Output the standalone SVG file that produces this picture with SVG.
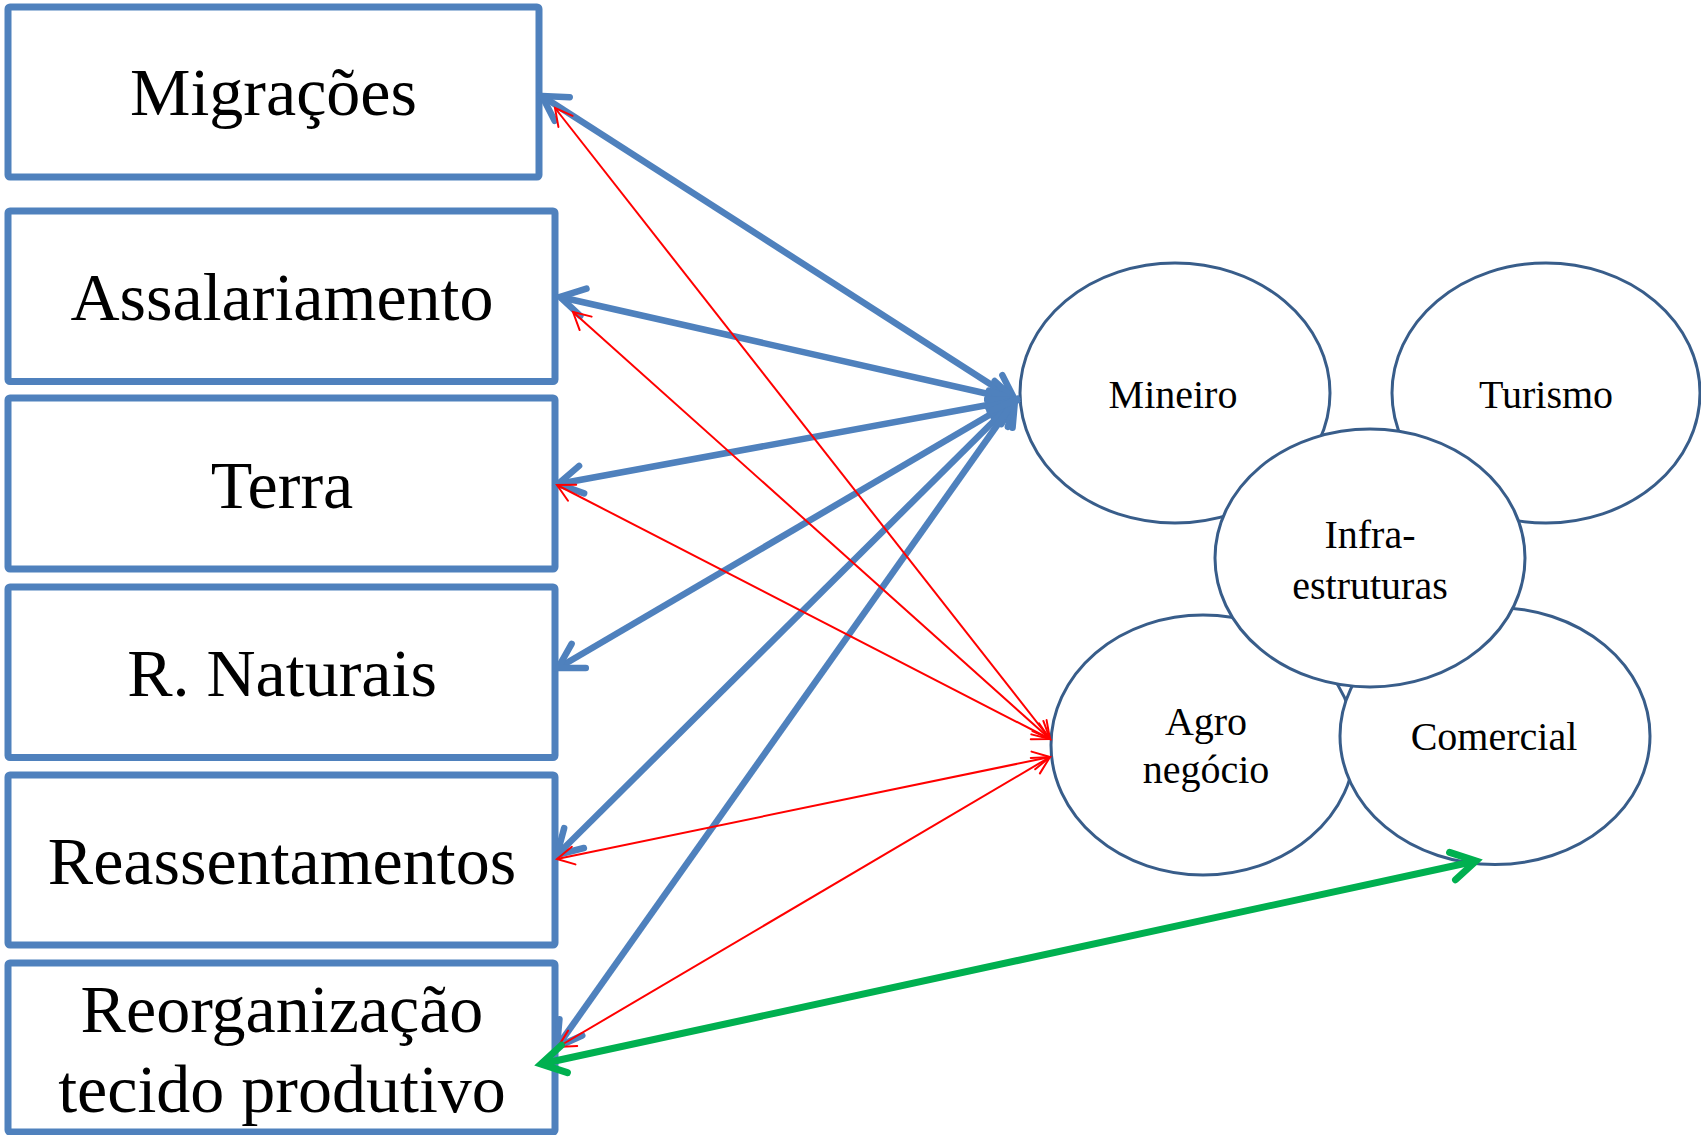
<svg xmlns="http://www.w3.org/2000/svg" width="1701" height="1135" viewBox="0 0 1701 1135">
<style>
.box{fill:#FFFFFF;stroke:#4F81BD;stroke-width:7;}
.ell{fill:#FFFFFF;stroke:#385D8A;stroke-width:3;}
.bt{font-family:"Liberation Serif","Times New Roman",serif;font-size:68px;fill:#000000;text-anchor:middle;}
.et{font-family:"Liberation Serif","Times New Roman",serif;font-size:40px;fill:#000000;text-anchor:middle;}
.blue{stroke:#4F81BD;stroke-width:6.5;fill:none;marker-start:url(#mb);marker-end:url(#mb);}
.red{stroke:#FF0000;stroke-width:2;fill:none;marker-start:url(#mr);marker-end:url(#mr);}
.green{stroke:#00B050;stroke-width:7;fill:none;marker-start:url(#mg);marker-end:url(#mg);}
</style>
<defs>
<marker id="mb" markerUnits="userSpaceOnUse" viewBox="-35 -25 50 50" markerWidth="50" markerHeight="50" refX="0" refY="0" orient="auto-start-reverse">
<path d="M-24,-14 L0,0 L-24,14" fill="none" stroke="#4F81BD" stroke-width="6.5" stroke-linecap="round"/>
</marker>
<marker id="mr" markerUnits="userSpaceOnUse" viewBox="-25 -15 35 30" markerWidth="35" markerHeight="30" refX="0" refY="0" orient="auto-start-reverse">
<path d="M-17,-9 L0,0 L-17,9" fill="none" stroke="#FF0000" stroke-width="2" stroke-linecap="round"/>
</marker>
<marker id="mg" markerUnits="userSpaceOnUse" viewBox="-35 -25 50 50" markerWidth="50" markerHeight="50" refX="0" refY="0" orient="auto-start-reverse">
<path d="M-24,-14 L0,0 L-24,14" fill="none" stroke="#00B050" stroke-width="7" stroke-linecap="round"/>
</marker>
</defs>

<g id="migracoes">
<rect class="box" x="8" y="7" width="531" height="170" rx="2"/>
<text class="bt" x="273.5" y="115">Migrações</text>
</g>
<g id="assalariamento">
<rect class="box" x="8" y="211" width="547" height="170.5" rx="2"/>
<text class="bt" x="282" y="320">Assalariamento</text>
</g>
<g id="terra">
<rect class="box" x="8" y="398" width="547" height="171" rx="2"/>
<text class="bt" x="282" y="508">Terra</text>
</g>
<g id="rnaturais">
<rect class="box" x="8" y="587" width="547" height="170.5" rx="2"/>
<text class="bt" x="282" y="696">R. Naturais</text>
</g>
<g id="reassentamentos">
<rect class="box" x="8" y="775" width="547" height="170" rx="2"/>
<text class="bt" x="282" y="884">Reassentamentos</text>
</g>
<g id="reorganizacao">
<rect class="box" x="8" y="963" width="547" height="169" rx="2"/>
<text class="bt" x="282" y="1032">Reorganização</text>
<text class="bt" x="282" y="1112">tecido produtivo</text>
</g>

<g id="mineiro">
<ellipse class="ell" cx="1175" cy="393" rx="155" ry="130"/>
<text class="et" x="1173" y="408">Mineiro</text>
</g>
<g id="turismo">
<ellipse class="ell" cx="1546" cy="393" rx="154" ry="130"/>
<text class="et" x="1546" y="408">Turismo</text>
</g>
<g id="agronegocio">
<ellipse class="ell" cx="1203" cy="745" rx="152" ry="130"/>
<text class="et" x="1206" y="735">Agro</text>
<text class="et" x="1206" y="783">negócio</text>
</g>
<g id="comercial">
<ellipse class="ell" cx="1495" cy="736" rx="155" ry="128.5"/>
<text class="et" x="1494" y="750">Comercial</text>
</g>
<g id="infraestruturas">
<ellipse class="ell" cx="1370" cy="558" rx="155" ry="129"/>
<text class="et" x="1370" y="548">Infra-</text>
<text class="et" x="1370" y="599">estruturas</text>
</g>

<g id="connectors">
<line class="blue" x1="1015" y1="400" x2="542" y2="96"/>
<line class="blue" x1="1015" y1="400" x2="560" y2="297"/>
<line class="blue" x1="1015" y1="400" x2="558" y2="484"/>
<line class="blue" x1="1015" y1="400" x2="558" y2="668"/>
<line class="blue" x1="1015" y1="400" x2="557" y2="855"/>
<line class="blue" x1="1015" y1="400" x2="557" y2="1047"/>
<line class="red" x1="1050" y1="739" x2="555" y2="108"/>
<line class="red" x1="1050" y1="739" x2="573" y2="312"/>
<line class="red" x1="1050" y1="739" x2="557" y2="485"/>
<line class="red" x1="1050" y1="757" x2="557" y2="859"/>
<line class="red" x1="1050" y1="757" x2="558" y2="1047"/>
<line class="green" x1="541" y1="1064" x2="1476" y2="861"/>
</g>
</svg>
